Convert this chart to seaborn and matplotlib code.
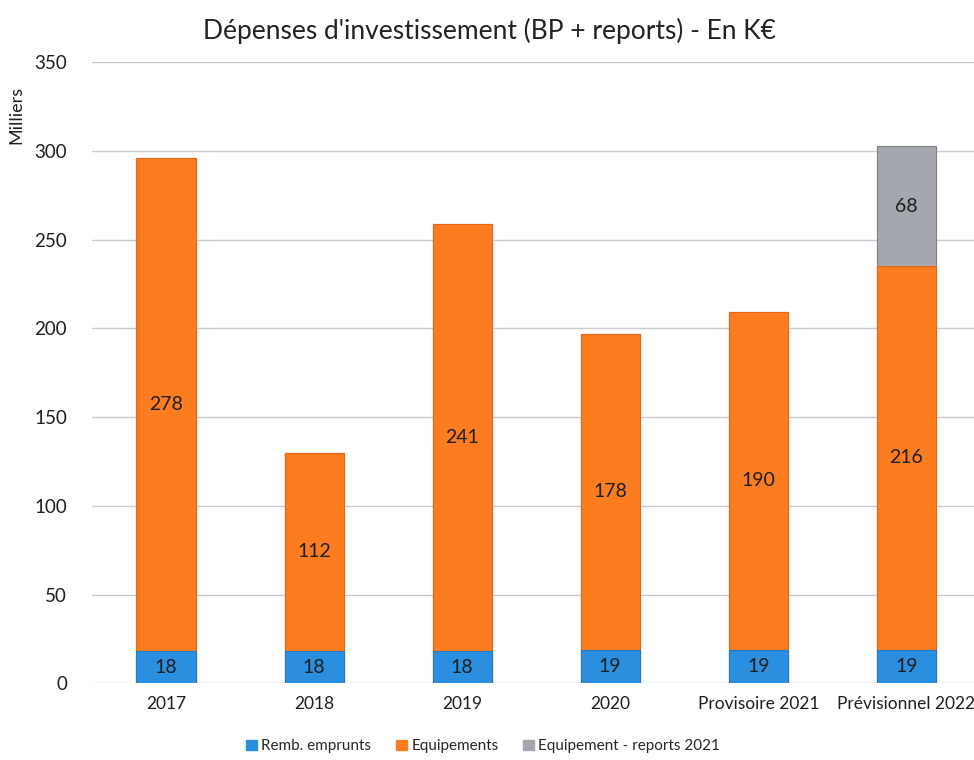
import pandas as pd
import matplotlib
matplotlib.use('Agg')
import matplotlib.pyplot as plt
import matplotlib.patches as mpatches
import seaborn as sns

# data (K€, shown in "Milliers")
years = ['2017', '2018', '2019', '2020', 'Provisoire 2021', 'Prévisionnel 2022']
remb_emprunts = [18, 18, 18, 19, 19, 19]
equipements = [278, 112, 241, 178, 190, 216]
reports_2021 = [0, 0, 0, 0, 0, 68]

c_blue = '#2b8fe0'
c_orange = '#fb7d1f'
c_grey = '#a5a7ae'

df = pd.DataFrame({'annee': years, 'remb': remb_emprunts,
                   'equip': equipements, 'reports': reports_2021})
df['top_equip'] = df['remb'] + df['equip']
df['total'] = df['top_equip'] + df['reports']

sns.set_style('white')
plt.rcParams['font.family'] = ['Lato', 'DejaVu Sans']

fig = plt.figure(figsize=(9.74, 7.6), dpi=100)
ax = fig.add_axes([0.0945, 0.101, 0.912, 0.817])

# stacked bars: draw cumulative heights, tallest first
sns.barplot(data=df, x='annee', y='total', color=c_grey, width=0.4,
            saturation=1, edgecolor='#7d7f86', linewidth=0.8, ax=ax)
sns.barplot(data=df, x='annee', y='top_equip', color=c_orange, width=0.4,
            saturation=1, edgecolor='#ea651a', linewidth=0.8, ax=ax)
sns.barplot(data=df, x='annee', y='remb', color=c_blue, width=0.4,
            saturation=1, edgecolor='#2379c4', linewidth=0.8, ax=ax)

# segment labels
for i, row in df.iterrows():
    ax.text(i, row['remb'] / 2, str(row['remb']), ha='center', va='center',
            fontsize=14, color='#1e1e1e')
    ax.text(i, row['remb'] + row['equip'] / 2, str(row['equip']),
            ha='center', va='center', fontsize=14, color='#1e1e1e')
    if row['reports'] > 0:
        ax.text(i, row['top_equip'] + row['reports'] / 2, str(row['reports']),
                ha='center', va='center', fontsize=14, color='#1e1e1e')

ax.set_ylim(0, 350)
ax.set_yticks(range(0, 351, 50))
ax.set_xlim(-0.5, 5.5)
ax.yaxis.grid(True, color='#c9c9d2', linewidth=1)
ax.set_axisbelow(True)
for s in ax.spines.values():
    s.set_visible(False)
ax.tick_params(axis='y', length=0, labelsize=13.5, colors='#1e1e1e', pad=18)
ax.tick_params(axis='x', length=0, labelsize=12.5, colors='#1e1e1e', pad=9)
ax.set_xlabel('')
ax.set_ylabel('Milliers', fontsize=13, color='#1e1e1e')
ax.yaxis.set_label_coords(-0.076, 0.915)

fig.suptitle("Dépenses d'investissement (BP + reports) - En K€",
             x=0.503, y=0.977, fontsize=19, color='#222222')

handles = [mpatches.Patch(color=c_blue, label='Remb. emprunts'),
           mpatches.Patch(color=c_orange, label='Equipements'),
           mpatches.Patch(color=c_grey, label='Equipement - reports 2021')]
fig.legend(handles=handles, loc='center', bbox_to_anchor=(0.496, 0.018),
           ncol=3, frameon=False, fontsize=11, handlelength=0.7,
           handleheight=0.7, handletextpad=0.3, columnspacing=1.6)

fig.savefig('out.png', dpi=100)
